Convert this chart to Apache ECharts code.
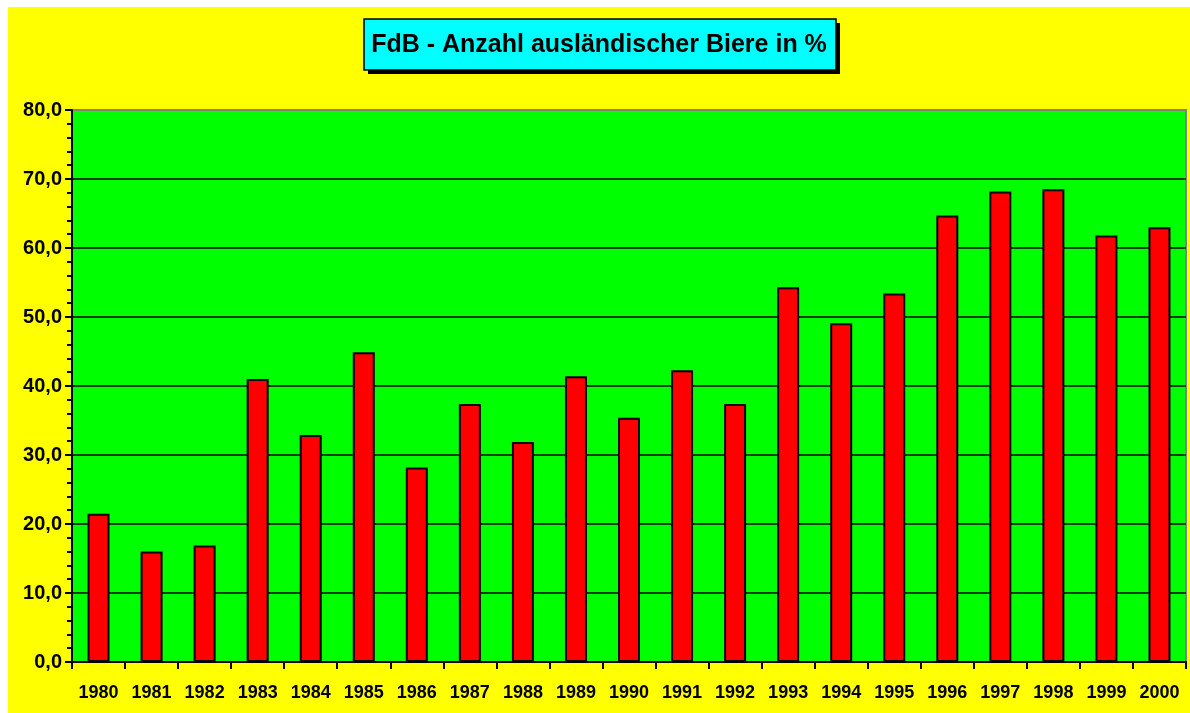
<!DOCTYPE html>
<html>
<head>
<meta charset="utf-8">
<script src="https://cdn.jsdelivr.net/npm/echarts@6/dist/echarts.min.js"></script>
<style>
html,body{margin:0;padding:0;background:#fff;width:1190px;height:713px;overflow:hidden;}
#c{position:absolute;left:8px;top:7px;width:1182px;height:706px;}
</style>
</head>
<body>
<div id="c"></div>
<script>
const titleText = 'FdB - Anzahl ausländischer Biere in %';
const years = ['1980','1981','1982','1983','1984','1985','1986','1987','1988','1989','1990','1991','1992','1993','1994','1995','1996','1997','1998','1999','2000'];
const shares = [21.5, 16.0, 16.9, 41.0, 32.9, 44.9, 28.2, 37.4, 31.9, 41.4, 35.4, 42.3, 37.4, 54.3, 49.1, 53.4, 64.7, 68.2, 68.5, 61.8, 63.0];
const yTicks = [0, 10, 20, 30, 40, 50, 60, 70, 80];

const FONT = '"Liberation Sans", Arial, sans-serif';
const chart = echarts.init(document.getElementById('c'), null, {renderer:'canvas'});
chart.setOption({
  backgroundColor: '#FFFF00',
  animation: false,
  graphic: [
    {type: 'rect', z: 0, shape: {x: 360, y: 16, width: 472, height: 51}, style: {fill: '#000'}},
    {type: 'rect', z: 1, shape: {x: 356, y: 12, width: 472, height: 51}, style: {fill: '#00FFFF', stroke: '#000', lineWidth: 1.5}}
  ],
  title: {
    text: titleText,
    left: 'center',
    top: 25,
    padding: 0,
    z: 10,
    textStyle: {fontFamily: FONT, fontSize: 25, lineHeight: 26, fontWeight: 'bold', color: '#000'}
  },
  grid: {
    left: 64, right: 4, top: 103, bottom: 51,
    show: true,
    backgroundColor: '#00FF00',
    borderColor: '#808080',
    borderWidth: 2
  },
  xAxis: {
    type: 'category',
    data: years,
    axisLine: {lineStyle: {color: '#000', width: 2}},
    axisTick: {show: true, alignWithLabel: false, length: 7, lineStyle: {color: '#000', width: 2}},
    axisLabel: {margin: 22, fontFamily: FONT, fontSize: 18, fontWeight: 'bold', color: '#000', interval: 0}
  },
  yAxis: {
    type: 'value',
    min: yTicks[0],
    max: yTicks[yTicks.length - 1],
    interval: 10,
    axisLine: {show: true, lineStyle: {color: '#000', width: 2}},
    axisTick: {show: true, length: 7, lineStyle: {color: '#000', width: 2}},
    minorTick: {show: true, splitNumber: 5, length: 5, lineStyle: {color: '#000', width: 2}},
    splitLine: {show: true, lineStyle: {color: ['#000','#000','#000','#000','#000','#000','#000','#000','#808080'], width: 1.5}},
    axisLabel: {
      margin: 10, fontFamily: FONT, fontSize: 20, fontWeight: 'bold', color: '#000',
      formatter: v => v.toFixed(1).replace('.', ',')
    }
  },
  series: [{
    type: 'bar',
    data: shares,
    barWidth: 22,
    itemStyle: {color: '#FF0000', borderColor: '#000', borderWidth: 2}
  }]
});
</script>
</body>
</html>
